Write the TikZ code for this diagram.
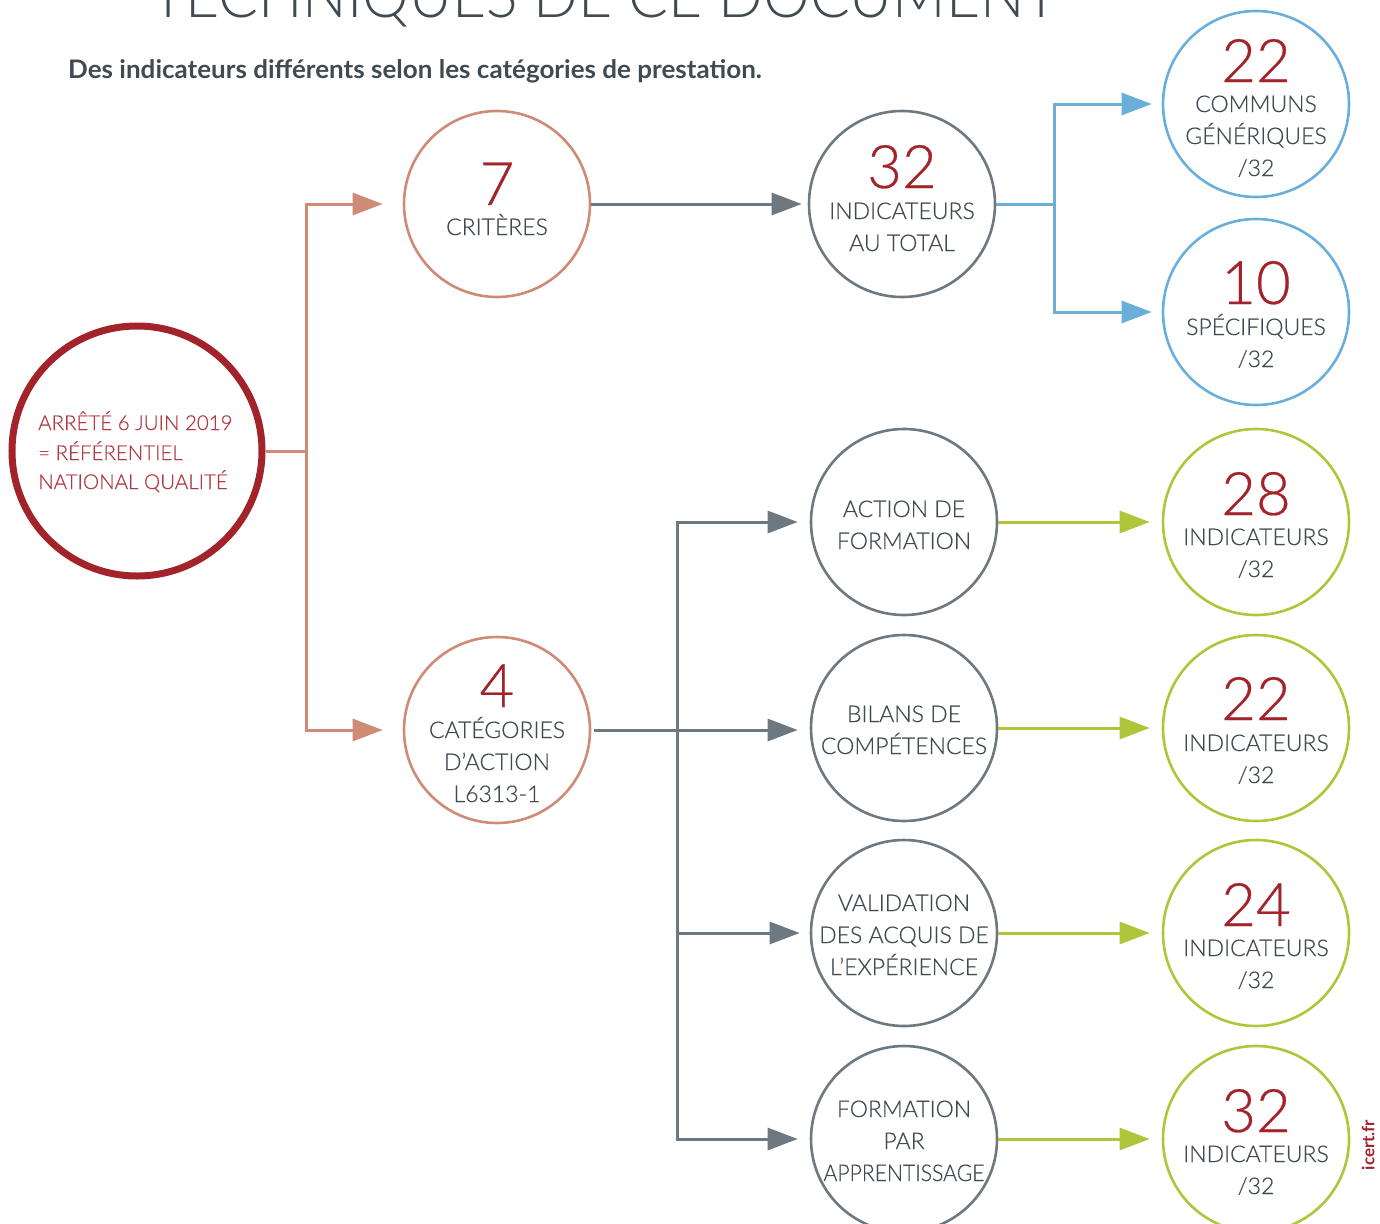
\documentclass[tikz,border=0pt]{standalone}
\usepackage{fontspec}
\setmainfont{Lato Light}[BoldFont=Lato Bold]
\newfontfamily\lfont{Lato Light}[FakeBold=0.45]
\usetikzlibrary{arrows.meta}
\definecolor{dred}{HTML}{A3232B}
\definecolor{tred}{HTML}{B23A42}
\definecolor{salm}{HTML}{CF8B75}
\definecolor{cgray}{HTML}{6D7880}
\definecolor{tgray}{HTML}{3F4A51}
\definecolor{cblue}{HTML}{6AAFDA}
\definecolor{cgreen}{HTML}{AFC53A}
\tikzset{
  circ/.style={circle, draw=#1, line width=2.6pt, minimum size=186pt, inner sep=0pt},
  conn/.style={draw=#1, line width=3pt, -{Triangle[length=30pt,width=22pt,fill=#1]}},
  plain/.style={draw=#1, line width=3pt},
  num/.style={anchor=base, text=dred, font=\lfont\fontsize{60}{60}\selectfont, inner sep=0pt},
  lbl/.style={anchor=base, text=tgray, font=\lfont\fontsize{23}{23}\selectfont, inner sep=0pt},
  mtxt/.style={anchor=base west, inner sep=0pt, text=tred, font=\lfont\fontsize{20.5}{20.5}\selectfont},
}
\begin{document}
\begin{tikzpicture}[x=1pt,y=-1pt]
\useasboundingbox (0,0) rectangle (1380,1223);
% title
\node[anchor=base, inner sep=0pt, text=tgray, font=\fontsize{62}{62}\selectfont, xscale=0.95] (title) at (605,18) {TECHNIQUES DE CE DOCUMENT};
\node[anchor=base west, inner sep=0pt, text=tgray, font=\bfseries\fontsize{25.5}{25.5}\selectfont, xscale=1.02] (sub) at (68,78) {Des indicateurs différents selon les catégories de prestation.};
% main circle
\node[circle, draw=dred, line width=7pt, minimum size=250pt, inner sep=0pt] (main) at (137,451) {};
\node[mtxt] (mt1) at (38,430) {ARRÊTÉ 6 JUIN 2019};
\node[mtxt] (mt2) at (38,460) {= RÉFÉRENTIEL};
\node[mtxt] (mt3) at (38,489) {NATIONAL QUALITÉ};
% level 1
\node[circ=salm] (c7) at (497,204) {};
\node[num] (n7) at (497,205) {7};
\node[lbl] (l7) at (497,235) {CRITÈRES};
\node[circ=salm] (c4) at (497,730) {};
\node[num] (n4) at (497,707) {4};
\node[lbl] (l4a) at (497,738) {CATÉGORIES};
\node[lbl] (l4b) at (497,770) {D’ACTION};
\node[lbl] (l4c) at (497,802) {L6313-1};
% 32 total
\node[circ=cgray] (c32) at (902,204) {};
\node[num] (n32) at (902,188) {32};
\node[lbl] (l32a) at (902,219) {INDICATEURS};
\node[lbl] (l32b) at (902,251) {AU TOTAL};
% blue
\node[circ=cblue] (c22) at (1256,104) {};
\node[num] (n22) at (1256,82) {22};
\node[lbl] (l22a) at (1256,112) {COMMUNS};
\node[lbl] (l22b) at (1256,144) {GÉNÉRIQUES};
\node[lbl] (l22c) at (1256,176) {/32};
\node[circ=cblue] (c10) at (1256,312) {};
\node[num] (n10) at (1256,304) {10};
\node[lbl] (l10a) at (1256,335) {SPÉCIFIQUES};
\node[lbl] (l10b) at (1256,367) {/32};
% middle gray
\node[circ=cgray] (ca) at (904,522) {};
\node[lbl] (la1) at (904,517) {ACTION DE};
\node[lbl] (la2) at (904,549) {FORMATION};
\node[circ=cgray] (cb) at (904,728) {};
\node[lbl] (lb1) at (904,722) {BILANS DE};
\node[lbl] (lb2) at (904,754) {COMPÉTENCES};
\node[circ=cgray] (cv) at (904,933) {};
\node[lbl] (lv1) at (904,911) {VALIDATION};
\node[lbl] (lv2) at (904,943) {DES ACQUIS DE};
\node[lbl] (lv3) at (904,975) {L’EXPÉRIENCE};
\node[circ=cgray] (cf) at (904,1139) {};
\node[lbl] (lf1) at (904,1117) {FORMATION};
\node[lbl] (lf2) at (904,1149) {PAR};
\node[lbl, xscale=0.92] (lf3) at (904,1181) {APPRENTISSAGE};
% green
\node[circ=cgreen] (g1) at (1256,522) {};
\node[num] (gn1) at (1256,515) {28};
\node[lbl] (gl1) at (1256,545) {INDICATEURS};
\node[lbl] (gs1) at (1256,577) {/32};
\node[circ=cgreen] (g2) at (1256,728) {};
\node[num] (gn2) at (1256,720) {22};
\node[lbl] (gl2) at (1256,751) {INDICATEURS};
\node[lbl] (gs2) at (1256,783) {/32};
\node[circ=cgreen] (g3) at (1256,933) {};
\node[num] (gn3) at (1256,926) {24};
\node[lbl] (gl3) at (1256,956) {INDICATEURS};
\node[lbl] (gs3) at (1256,988) {/32};
\node[circ=cgreen] (g4) at (1256,1139) {};
\node[num] (gn4) at (1256,1132) {32};
\node[lbl] (gl4) at (1256,1162) {INDICATEURS};
\node[lbl] (gs4) at (1256,1194) {/32};
% icert
\node[rotate=90, inner sep=0pt, text=dred, font=\bfseries\fontsize{17}{17}\selectfont] (icert) at (1368,1145) {icert.fr};
% connectors salmon
\coordinate (sj) at (306,451);
\draw[plain=salm] (main.east) -- (sj);
\draw[conn=salm] (sj) |- ([xshift=-20pt]c7.west);
\draw[conn=salm] (sj) |- ([xshift=-20pt]c4.west);
% gray
\draw[conn=cgray] (c7.east) -- ([xshift=-6pt]c32.west);
\coordinate (gj) at (677,730);
\draw[conn=cgray] ([xshift=3pt]c4.east) -- ([xshift=-12pt]cb.west |- gj);
\draw[conn=cgray] (gj) |- ([xshift=-12pt]ca.west);
\draw[conn=cgray] (gj) |- ([xshift=-12pt]cf.west);
\draw[conn=cgray] (gj |- cv) -- ([xshift=-10pt]cv.west);
% blue
\coordinate (bj) at (1054,204);
\draw[plain=cblue] (c32.east) -- (bj);
\draw[conn=cblue] (bj) |- ([xshift=-10pt]c22.west);
\draw[conn=cblue] (bj) |- ([xshift=-10pt]c10.west);
% green
\draw[conn=cgreen] (ca.east) -- ([xshift=-12pt]g1.west);
\draw[conn=cgreen] (cb.east) -- ([xshift=-12pt]g2.west);
\draw[conn=cgreen] (cv.east) -- ([xshift=-12pt]g3.west);
\draw[conn=cgreen] (cf.east) -- ([xshift=-12pt]g4.west);
\end{tikzpicture}
\end{document}
